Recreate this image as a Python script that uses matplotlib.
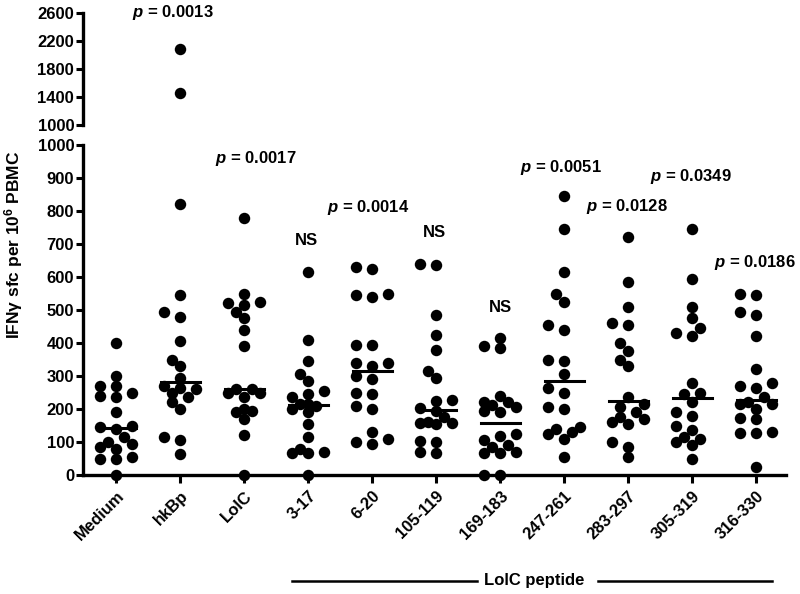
import numpy as np
import matplotlib
matplotlib.use("Agg")
import matplotlib.pyplot as plt
import matplotlib.transforms as mtransforms

plt.rcParams["font.family"] = ["Liberation Sans", "DejaVu Sans"]
plt.rcParams["font.weight"] = "bold"
plt.rcParams["mathtext.fontset"] = "custom"
plt.rcParams["mathtext.it"] = "Liberation Sans:bold:italic"
plt.rcParams["mathtext.rm"] = "Liberation Sans:bold"
plt.rcParams["mathtext.bf"] = "Liberation Sans:bold"

# valeurs (sfc par 10^6 PBMC)
categories = ["Medium", "hkBp", "LolC", "3-17", "6-20", "105-119", "169-183",
              "247-261", "283-297", "305-319", "316-330"]
medium = [400, 300, 270, 270, 250, 240, 235, 190, 150, 145, 140, 115, 100, 95, 85, 80, 55, 50, 50, 0]
hkbp = [2090, 1450, 820, 545, 495, 480, 405, 350, 330, 295, 270, 265, 260, 250, 235, 220, 200, 115, 105, 65]
lolc = [780, 550, 525, 520, 515, 495, 475, 440, 390, 260, 260, 250, 250, 237, 200, 195, 190, 170, 120, 0]
p3_17 = [615, 410, 345, 305, 285, 255, 245, 235, 215, 215, 210, 200, 190, 155, 115, 80, 70, 68, 68, 0]
p6_20 = [630, 625, 550, 545, 540, 395, 395, 340, 340, 330, 300, 290, 250, 245, 210, 200, 130, 110, 100, 95]
p105_119 = [640, 635, 485, 425, 380, 315, 295, 227, 225, 202, 195, 176, 160, 157, 157, 155, 104, 99, 70, 68]
p169_183 = [415, 390, 385, 240, 222, 220, 212, 205, 195, 192, 125, 118, 106, 92, 85, 70, 68, 66, 0, 0]
p247_261 = [845, 745, 615, 550, 525, 455, 440, 350, 345, 305, 265, 250, 205, 200, 145, 140, 130, 125, 110, 55]
p283_297 = [720, 585, 510, 460, 455, 400, 375, 350, 330, 235, 215, 205, 190, 175, 170, 160, 155, 100, 85, 55]
p305_319 = [745, 595, 510, 475, 445, 430, 420, 280, 250, 245, 220, 190, 180, 150, 135, 115, 110, 100, 90, 50]
p316_330 = [550, 545, 495, 485, 420, 320, 280, 270, 265, 235, 220, 215, 215, 200, 172, 170, 131, 128, 128, 25]
groups = [medium, hkbp, lolc, p3_17, p6_20, p105_119, p169_183,
          p247_261, p283_297, p305_319, p316_330]

p_labels = ["$p$ = 0.0017", "NS", "$p$ = 0.0014", "NS", "NS",
            "$p$ = 0.0051", "$p$ = 0.0128", "$p$ = 0.0349", "$p$ = 0.0186"]
p_x = [2.17, 2.97, 3.94, 4.97, 6.0, 6.94, 7.98, 8.97, 9.97]
p_y = [960, 712, 812, 736, 509, 933, 815, 906, 645]

fig = plt.figure(figsize=(8, 5.94), dpi=100)
ax = fig.add_axes([0.104, 0.2003, 0.879, 0.5556])
ax_top = fig.add_axes([0.104, 0.7896, 0.879, 0.1886])

xlim = (-0.52, 10.47)
for a in (ax, ax_top):
    a.set_xlim(*xlim)
    for s in ("top", "right"):
        a.spines[s].set_visible(False)
    a.spines["left"].set_linewidth(2.4)
    a.tick_params(axis="y", direction="out", length=5, width=2.2, labelsize=12, pad=1.5)
ax.spines["bottom"].set_linewidth(2.4)
ax_top.spines["bottom"].set_visible(False)
ax_top.set_xticks([])

ax.set_ylim(0, 1000)
ax.set_yticks(np.arange(0, 1001, 100))
ax_top.set_ylim(1000, 2600)
ax_top.set_yticks([1000, 1400, 1800, 2200, 2600])

ax.set_xticks(range(len(categories)))
ax.set_xticklabels(categories, rotation=45, ha="right", va="top",
                   rotation_mode="anchor", fontsize=12)
ax.tick_params(axis="x", direction="out", length=5.5, width=2.2, pad=4)


def swarm(a, xc, vals, diam=9.5, step=8.0):
    # disposition type "beeswarm" (colonnes -2..2), en pixels
    vals = np.asarray(vals, float)
    x0 = a.transData.transform((xc, 0))[0]
    placed = []
    xs = np.zeros(len(vals))
    for i in np.argsort(vals):
        yp = a.transData.transform((xc, vals[i]))[1]
        best, best_d = 0, -1
        for k in [0, -1, 1, -2, 2]:
            xp = x0 + k * step
            d = min([np.hypot(xp - px, yp - py) for px, py in placed] + [99])
            if d >= diam:
                best = k
                break
            if d > best_d + 0.5:
                best, best_d = k, d
        xp = x0 + best * step
        placed.append((xp, yp))
        xs[i] = a.transData.inverted().transform((xp, yp))[0]
    return xs


for i, vals in enumerate(groups):
    vals = np.asarray(vals, float)
    low = vals[vals <= 1000]
    high = vals[vals > 1000]
    xs = swarm(ax, i, low)
    ax.scatter(xs, low, s=68, color="black", zorder=4, clip_on=False, linewidths=0)
    if len(high):
        xs_h = swarm(ax_top, i, high)
        ax_top.scatter(xs_h, high, s=68, color="black", zorder=4, clip_on=False, linewidths=0)
    med = np.median(vals)
    ax.plot([i - 0.3, i + 0.3], [med, med], color="black", lw=2.2, zorder=3)

ax_top.text(0.88, 2600, "$p$ = 0.0013", ha="center", va="center", fontsize=12,
            fontweight="bold", clip_on=False)
for lab, x, y in zip(p_labels, p_x, p_y):
    ax.text(x, y, lab, ha="center", va="center", fontsize=12, fontweight="bold")

fig.text(0.017, 0.588, "IFN\u03b3 sfc per 10$^{\\mathrm{6}}$ PBMC", rotation=90,
         ha="center", va="center", fontsize=12.5, fontweight="bold")

# bracket "LolC peptide"
trans = mtransforms.blended_transform_factory(ax.transData, fig.transFigure)
ax.plot([2.75, 5.64], [0.022, 0.022], color="black", lw=1.8, transform=trans, clip_on=False)
ax.plot([7.53, 10.25], [0.022, 0.022], color="black", lw=1.8, transform=trans, clip_on=False)
ax.text(6.53, 0.022, "LolC peptide", ha="center", va="center", fontsize=12,
        fontweight="bold", transform=trans)

fig.savefig("out.png", dpi=100)
